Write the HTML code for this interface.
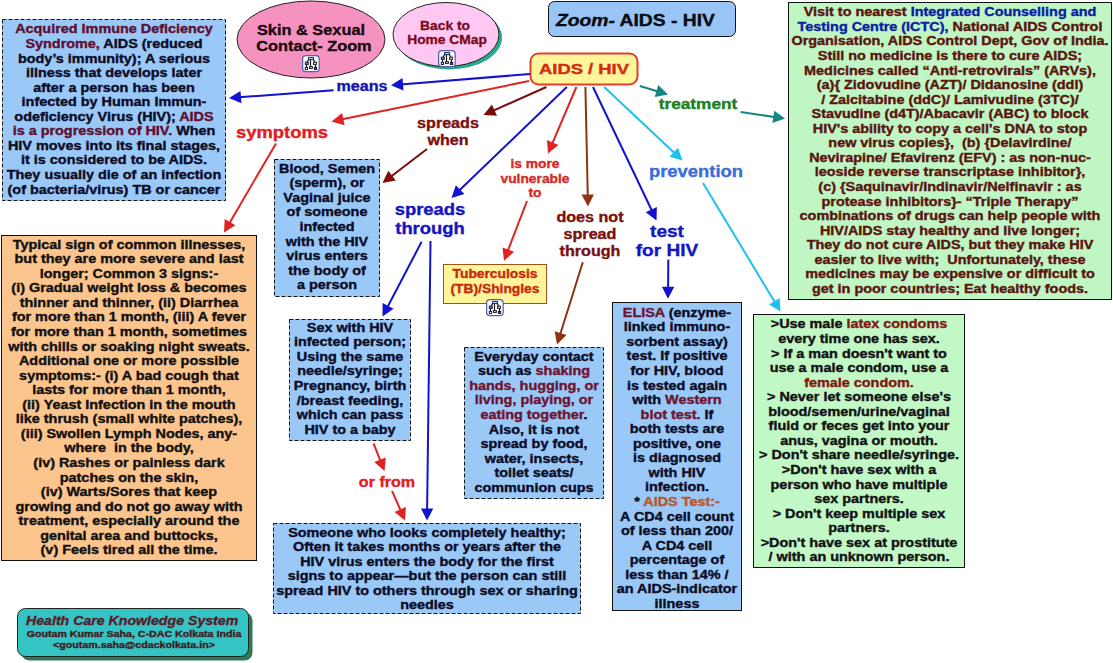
<!DOCTYPE html>
<html><head><meta charset="utf-8"><title>Zoom- AIDS - HIV</title>
<style>
html,body{margin:0;padding:0;width:1113px;height:663px;overflow:hidden;background:#fff;}
svg{position:absolute;left:0;top:0;}
.t{position:absolute;-webkit-text-stroke:0.35px currentColor;font-family:"Liberation Sans",sans-serif;font-weight:bold;white-space:nowrap;text-align:center;transform-origin:50% 0;}
</style></head><body>
<svg width="1113" height="663" viewBox="0 0 1113 663">
<rect x="2.5" y="19.5" width="223.0" height="181.0" rx="0" fill="#9ac9f8" stroke="#111" stroke-width="1" stroke-dasharray="4 2"/>
<rect x="1.5" y="235.5" width="255.0" height="325.0" rx="0" fill="#fdc58e" stroke="#111" stroke-width="1"/>
<rect x="788.5" y="2.5" width="323.0" height="297.0" rx="0" fill="#bff6c4" stroke="#111" stroke-width="1"/>
<rect x="274.5" y="159.5" width="105.0" height="137.0" rx="0" fill="#9ac9f8" stroke="#111" stroke-width="1" stroke-dasharray="4 2"/>
<rect x="289.5" y="319.5" width="121.0" height="121.0" rx="0" fill="#9ac9f8" stroke="#111" stroke-width="1" stroke-dasharray="4 2"/>
<rect x="443.5" y="264.5" width="103.0" height="39.0" rx="0" fill="#fff49a" stroke="#a8501a" stroke-width="1"/>
<rect x="464.5" y="347.5" width="139.0" height="151.0" rx="0" fill="#9ac9f8" stroke="#111" stroke-width="1" stroke-dasharray="4 2"/>
<rect x="273.5" y="523.5" width="307.0" height="90.0" rx="0" fill="#9ac9f8" stroke="#111" stroke-width="1" stroke-dasharray="4 2"/>
<rect x="612.5" y="302.5" width="129.0" height="308.0" rx="0" fill="#9ac9f8" stroke="#111" stroke-width="1"/>
<rect x="753.5" y="314.5" width="211.0" height="253.0" rx="0" fill="#c2f7c6" stroke="#111" stroke-width="1"/>
<rect x="548.5" y="1.5" width="187" height="35" rx="6" fill="#98c5f5" stroke="#111" stroke-width="1"/>
<rect x="530.5" y="53.5" width="107" height="31" rx="8" fill="#fff59a" stroke="#e0402a" stroke-width="2"/>
<ellipse cx="311" cy="39.5" rx="74" ry="38.5" fill="#f592bf" stroke="#222" stroke-width="1"/>
<ellipse cx="449" cy="37.5" rx="53" ry="32" fill="#2aa88a"/>
<ellipse cx="446" cy="34.5" rx="53" ry="32" fill="#ffc8f2" stroke="#222" stroke-width="1"/>
<rect x="21.5" y="612.5" width="231" height="48" rx="8" fill="#2d7a55"/>
<rect x="17.5" y="608.5" width="231" height="48" rx="8" fill="#35c4c4" stroke="#222" stroke-width="1"/>
<line x1="530.0" y1="74.0" x2="400.6" y2="84.5" stroke="#1212d0" stroke-width="2"/>
<polygon points="391.0,85.3 402.5,78.1 403.5,90.5" fill="#1212d0"/>
<line x1="333.6" y1="90.2" x2="238.6" y2="97.3" stroke="#1212d0" stroke-width="2"/>
<polygon points="229.0,98.0 240.5,90.9 241.4,103.3" fill="#1212d0"/>
<line x1="529.0" y1="81.0" x2="341.0" y2="119.6" stroke="#e02222" stroke-width="2"/>
<polygon points="331.6,121.5 342.1,113.0 344.6,125.2" fill="#e02222"/>
<line x1="276.0" y1="143.4" x2="228.8" y2="224.2" stroke="#e02222" stroke-width="2"/>
<polygon points="224.0,232.5 224.7,219.0 235.4,225.3" fill="#e02222"/>
<line x1="546.4" y1="87.0" x2="492.3" y2="111.1" stroke="#7a0c0c" stroke-width="2"/>
<polygon points="483.5,115.0 491.9,104.5 497.0,115.8" fill="#7a0c0c"/>
<line x1="427.0" y1="149.0" x2="390.1" y2="177.2" stroke="#7a0c0c" stroke-width="2"/>
<polygon points="382.5,183.0 388.3,170.8 395.8,180.6" fill="#7a0c0c"/>
<line x1="566.8" y1="87.0" x2="458.4" y2="191.3" stroke="#1212d0" stroke-width="2"/>
<polygon points="451.5,198.0 455.8,185.2 464.4,194.1" fill="#1212d0"/>
<line x1="421.6" y1="241.8" x2="387.0" y2="308.0" stroke="#1212d0" stroke-width="2"/>
<polygon points="382.5,316.5 382.6,303.0 393.6,308.7" fill="#1212d0"/>
<line x1="430.5" y1="241.0" x2="427.1" y2="510.9" stroke="#1212d0" stroke-width="2"/>
<polygon points="427.0,520.5 421.0,508.4 433.3,508.6" fill="#1212d0"/>
<line x1="576.4" y1="87.0" x2="551.8" y2="144.7" stroke="#e02222" stroke-width="2"/>
<polygon points="548.0,153.5 547.0,140.0 558.4,144.9" fill="#e02222"/>
<line x1="527.0" y1="201.0" x2="507.4" y2="251.8" stroke="#e02222" stroke-width="2"/>
<polygon points="504.0,260.8 502.5,247.4 514.1,251.8" fill="#e02222"/>
<line x1="585.4" y1="87.0" x2="587.8" y2="196.9" stroke="#8e3412" stroke-width="2"/>
<polygon points="588.0,206.5 581.5,194.6 593.9,194.4" fill="#8e3412"/>
<line x1="582.8" y1="262.2" x2="559.9" y2="335.3" stroke="#8e3412" stroke-width="2"/>
<polygon points="557.0,344.5 554.7,331.2 566.5,334.9" fill="#8e3412"/>
<line x1="593.0" y1="87.0" x2="652.4" y2="211.8" stroke="#1212d0" stroke-width="2"/>
<polygon points="656.5,220.5 645.7,212.3 656.9,207.0" fill="#1212d0"/>
<line x1="668.3" y1="259.5" x2="668.1" y2="289.2" stroke="#1212d0" stroke-width="2"/>
<polygon points="668.0,298.8 661.9,286.8 674.3,286.8" fill="#1212d0"/>
<line x1="604.2" y1="87.0" x2="675.5" y2="153.9" stroke="#20c0ec" stroke-width="2"/>
<polygon points="682.5,160.5 669.5,156.8 678.0,147.8" fill="#20c0ec"/>
<line x1="703.0" y1="182.9" x2="775.5" y2="303.3" stroke="#20c0ec" stroke-width="2"/>
<polygon points="780.5,311.5 769.0,304.4 779.6,298.0" fill="#20c0ec"/>
<line x1="639.8" y1="86.0" x2="658.8" y2="91.7" stroke="#1a8585" stroke-width="2"/>
<polygon points="668.0,94.5 654.7,97.0 658.3,85.1" fill="#1a8585"/>
<line x1="740.7" y1="111.9" x2="775.7" y2="117.2" stroke="#1a8585" stroke-width="2"/>
<polygon points="785.2,118.6 772.4,122.9 774.3,110.7" fill="#1a8585"/>
<line x1="373.5" y1="443.3" x2="380.9" y2="462.0" stroke="#e02222" stroke-width="2"/>
<polygon points="384.5,470.9 374.3,462.0 385.8,457.5" fill="#e02222"/>
<line x1="392.0" y1="490.8" x2="401.2" y2="511.7" stroke="#e02222" stroke-width="2"/>
<polygon points="405.0,520.5 394.5,512.0 405.9,507.0" fill="#e02222"/>
</svg>
<div class="t" style="left:-86.50px;top:22.42px;width:400px;font-size:12.00px;line-height:14.57px;color:#0c0c26;transform:scaleX(1.200);"><span style="color:#5e0f32">Acquired Immune Deficiency</span><br><span style="color:#5e0f32">Syndrome,</span> AIDS (reduced<br>body’s immunity); A serious<br>illness that develops later<br>after a person has been<br>infected by Human Immun-<br>odeficiency Virus (HIV); <span style="color:#5e0f32">AIDS</span><br><span style="color:#5e0f32">is a progression of HIV.</span> When<br>HIV moves into its final stages,<br>it is considered to be AIDS.<br>They usually die of an infection<br>(of bacteria/virus) TB or cancer</div>
<div class="t" style="left:-71.50px;top:237.62px;width:400px;font-size:12.00px;line-height:14.57px;color:#111;transform:scaleX(1.200);">Typical sign of common illnesses,<br>but they are more severe and last<br>longer; Common 3 signs:-<br>(i) Gradual weight loss &amp; becomes<br>thinner and thinner, (ii) Diarrhea<br>for more than 1 month, (iii) A fever<br>for more than 1 month, sometimes<br>with chills or soaking night sweats.<br>Additional one or more possible<br>symptoms:- (i) A bad cough that<br>lasts for more than 1 month,<br>(ii) Yeast Infection in the mouth<br>like thrush (small white patches),<br>(iii) Swollen Lymph Nodes, any-<br>where  in the body,<br>(iv) Rashes or painless dark<br>patches on the skin,<br>(iv) Warts/Sores that keep<br>growing and do not go away with<br>treatment, especially around the<br>genital area and buttocks,<br>(v) Feels tired all the time.</div>
<div class="t" style="left:749.70px;top:5.31px;width:400px;font-size:12.00px;line-height:14.57px;color:#5a140e;transform:scaleX(1.200);">Visit to nearest <span style="color:#0c1ea0">Integrated Counselling and</span><br><span style="color:#0c1ea0">Testing Centre (ICTC),</span> National AIDS Control<br>Organisation, AIDS Control Dept, Gov of India.<br>Still no medicine is there to cure AIDS;<br>Medicines called “Anti-retrovirals” (ARVs),<br>(a){ Zidovudine (AZT)/ Didanosine (ddl)<br>/ Zalcitabine (ddC)/ Lamivudine (3TC)/<br>Stavudine (d4T)/Abacavir (ABC) to block<br>HIV's ability to copy a cell's DNA to stop<br>new virus copies},  (b) {Delavirdine/<br>Nevirapine/ Efavirenz (EFV) : as non-nuc-<br>leoside reverse transcriptase inhibitor},<br>(c) {Saquinavir/Indinavir/Nelfinavir : as<br>protease inhibitors}- “Triple Therapy”<br>combinations of drugs can help people with<br>HIV/AIDS stay healthy and live longer;<br>They do not cure AIDS, but they make HIV<br>easier to live with;  Unfortunately, these<br>medicines may be expensive or difficult to<br>get in poor countries; Eat healthy foods.</div>
<div class="t" style="left:226.50px;top:161.81px;width:200px;font-size:12.00px;line-height:14.57px;color:#0c0c26;transform:scaleX(1.200);">Blood, Semen<br>(sperm), or<br>Vaginal juice<br>of someone<br>infected<br>with the HIV<br>virus enters<br>the body of<br>a person</div>
<div class="t" style="left:249.50px;top:320.81px;width:200px;font-size:12.00px;line-height:14.57px;color:#0c0c26;transform:scaleX(1.200);">Sex with HIV<br>infected person;<br>Using the same<br>needle/syringe;<br>Pregnancy, birth<br>/breast feeding,<br>which can pass<br>HIV to a baby</div>
<div class="t" style="left:413.50px;top:349.71px;width:240px;font-size:12.00px;line-height:14.57px;color:#0c0c26;transform:scaleX(1.200);">Everyday contact<br>such as <span style="color:#6e1430">shaking</span><br><span style="color:#6e1430">hands, hugging, or</span><br><span style="color:#6e1430">living, playing, or</span><br><span style="color:#6e1430">eating together</span>.<br>Also, it is not<br>spread by food,<br>water, insects,<br>toilet seats/<br>communion cups</div>
<div class="t" style="left:227.00px;top:525.62px;width:400px;font-size:12.00px;line-height:14.57px;color:#0c0c26;transform:scaleX(1.200);">Someone who looks completely healthy;<br>Often it takes months or years after the<br>HIV virus enters the body for the first<br>signs to appear—but the person can still<br>spread HIV to others through sex or sharing<br>needles</div>
<div class="t" style="left:556.50px;top:305.71px;width:240px;font-size:12.00px;line-height:14.57px;color:#0c0c26;transform:scaleX(1.200);"><span style="color:#6e1430">ELISA</span> (enzyme-<br>linked immuno-<br>sorbent assay)<br>test. If positive<br>for HIV, blood<br>is tested again<br>with <span style="color:#6e1430">Western</span><br><span style="color:#6e1430">blot test.</span> If<br>both tests are<br>positive, one<br>is diagnosed<br>with HIV<br>infection.<br>* <span style="color:#b8562c">AIDS Test:-</span><br>A CD4 cell count<br>of less than 200/<br>A CD4 cell<br>percentage of<br>less than 14% /<br>an AIDS-indicator<br>illness</div>
<div class="t" style="left:709.00px;top:317.42px;width:300px;font-size:12.00px;line-height:14.57px;color:#121212;transform:scaleX(1.200);">&gt;Use male <span style="color:#7e1a12">latex condoms</span><br>every time one has sex.<br>&gt; If a man doesn't want to<br>use a male condom, use a<br><span style="color:#7e1a12">female condom.</span><br>&gt; Never let someone else's<br>blood/semen/urine/vaginal<br>fluid or feces get into your<br>anus, vagina or mouth.<br>&gt; Don't share needle/syringe.<br>&gt;Don't have sex with a<br>person who have multiple<br>sex partners.<br>&gt; Don't keep multiple sex<br>partners.<br>&gt;Don't have sex at prostitute<br>/ with an unknown person.</div>
<div class="t" style="left:395.00px;top:266.90px;width:200px;font-size:12.00px;line-height:15.00px;color:#c42c0c;transform:scaleX(1.150);">Tuberculosis<br>(TB)/Shingles</div>
<div class="t" style="left:211.00px;top:21.90px;width:200px;font-size:15.00px;line-height:16.80px;color:#1a0a10;transform:scaleX(1.090);">Skin &amp; Sexual</div>
<div class="t" style="left:213.50px;top:38.20px;width:200px;font-size:15.00px;line-height:16.80px;color:#1a0a10;transform:scaleX(1.090);">Contact- Zoom</div>
<div class="t" style="left:344.80px;top:18.85px;width:200px;font-size:13.00px;line-height:14.30px;color:#7a0a1e;transform:scaleX(1.060);">Back to</div>
<div class="t" style="left:347.00px;top:33.05px;width:200px;font-size:13.00px;line-height:14.30px;color:#7a0a1e;transform:scaleX(1.060);">Home CMap</div>
<div class="t" style="left:555.6px;top:10.8px;font-size:16px;line-height:20px;color:#0a0a14;transform-origin:0 0;transform:scaleX(1.205);text-align:left"><i>Zoom-</i> AIDS - HIV</div>
<div class="t" style="left:483.50px;top:61.20px;width:200px;font-size:14.00px;line-height:16.00px;color:#d42a10;transform:scaleX(1.315);">AIDS / HIV</div>
<div class="t" style="left:262.00px;top:78.40px;width:200px;font-size:14.00px;line-height:16.00px;color:#1515b0;transform:scaleX(1.150);">means</div>
<div class="t" style="left:181.50px;top:124.10px;width:200px;font-size:16.00px;line-height:18.00px;color:#e02020;transform:scaleX(1.150);">symptoms</div>
<div class="t" style="left:348.00px;top:114.80px;width:200px;font-size:14.00px;line-height:17.00px;color:#7a1010;transform:scaleX(1.150);">spreads<br>when</div>
<div class="t" style="left:329.50px;top:201.45px;width:200px;font-size:16.00px;line-height:18.30px;color:#1515c0;transform:scaleX(1.150);">spreads<br>through</div>
<div class="t" style="left:435.00px;top:157.20px;width:200px;font-size:12.00px;line-height:14.60px;color:#d42a2a;transform:scaleX(1.150);">is more<br>vulnerable<br>to</div>
<div class="t" style="left:489.60px;top:208.95px;width:200px;font-size:14.00px;line-height:16.90px;color:#7a1010;transform:scaleX(1.150);">does not<br>spread<br>through</div>
<div class="t" style="left:567.00px;top:222.10px;width:200px;font-size:16.00px;line-height:19.00px;color:#1515c0;transform:scaleX(1.190);">test<br>for HIV</div>
<div class="t" style="left:595.50px;top:163.00px;width:200px;font-size:16.00px;line-height:18.00px;color:#3a6fd8;transform:scaleX(1.150);">prevention</div>
<div class="t" style="left:598.40px;top:96.40px;width:200px;font-size:14.50px;line-height:16.00px;color:#1e7f1e;transform:scaleX(1.190);">treatment</div>
<div class="t" style="left:287.00px;top:474.40px;width:200px;font-size:14.00px;line-height:16.00px;color:#e02020;transform:scaleX(1.150);">or from</div>
<div class="t" style="left:25.5px;top:613.2px;font-size:13.5px;line-height:16px;color:#5a1a2a;transform-origin:0 0;transform:scaleX(1.048);text-align:left"><i>Health Care Knowledge System</i></div>
<div class="t" style="left:-16.50px;top:628.40px;width:300px;font-size:9.50px;line-height:11.00px;color:#3e1a22;transform:scaleX(1.120);">Goutam Kumar Saha, C-DAC Kolkata India<br>&lt;goutam.saha@cdackolkata.in&gt;</div>

<svg width="1113" height="663" viewBox="0 0 1113 663">
<g transform="translate(302,55)">
<rect x="0.6" y="0.6" width="16.6" height="16" rx="3.2" fill="#f6f9ff" stroke="#4f62b0" stroke-width="1.2"/>
<path d="M6.8 4.6 L5.0 7.0 M8.5 4.6 L8.5 11.5 M11.2 4.6 L13.0 7.0 M4.5 9.6 L4.5 12.3 M13.5 9.6 L13.5 12.3" stroke="#111" stroke-width="1.1" fill="none"/>
<rect x="6.4" y="2.6" width="5.2" height="2" fill="#bcd8f0" stroke="#14203a" stroke-width="0.9"/>
<rect x="3.3" y="7.1" width="3" height="2.3" fill="#6a7ab8" stroke="#141a40" stroke-width="0.9"/>
<rect x="11.5" y="7.2" width="3" height="2.2" fill="#e8e0a0" stroke="#1a1a14" stroke-width="0.9"/>
<rect x="3.3" y="12.4" width="2.3" height="2.1" fill="#ffffff" stroke="#101010" stroke-width="0.9"/>
<rect x="7.4" y="11.6" width="3" height="1.9" fill="#d8b0b0" stroke="#201010" stroke-width="0.9"/>
<rect x="12.4" y="12.4" width="2.3" height="2.1" fill="#4a5aa0" stroke="#101030" stroke-width="0.9"/>
</g>
<g transform="translate(438,50)">
<rect x="0.6" y="0.6" width="16.6" height="16" rx="3.2" fill="#f6f9ff" stroke="#4f62b0" stroke-width="1.2"/>
<path d="M6.8 4.6 L5.0 7.0 M8.5 4.6 L8.5 11.5 M11.2 4.6 L13.0 7.0 M4.5 9.6 L4.5 12.3 M13.5 9.6 L13.5 12.3" stroke="#111" stroke-width="1.1" fill="none"/>
<rect x="6.4" y="2.6" width="5.2" height="2" fill="#bcd8f0" stroke="#14203a" stroke-width="0.9"/>
<rect x="3.3" y="7.1" width="3" height="2.3" fill="#6a7ab8" stroke="#141a40" stroke-width="0.9"/>
<rect x="11.5" y="7.2" width="3" height="2.2" fill="#e8e0a0" stroke="#1a1a14" stroke-width="0.9"/>
<rect x="3.3" y="12.4" width="2.3" height="2.1" fill="#ffffff" stroke="#101010" stroke-width="0.9"/>
<rect x="7.4" y="11.6" width="3" height="1.9" fill="#d8b0b0" stroke="#201010" stroke-width="0.9"/>
<rect x="12.4" y="12.4" width="2.3" height="2.1" fill="#4a5aa0" stroke="#101030" stroke-width="0.9"/>
</g>
<g transform="translate(486,299)">
<rect x="0.6" y="0.6" width="16.6" height="16" rx="3.2" fill="#f6f9ff" stroke="#4f62b0" stroke-width="1.2"/>
<path d="M6.8 4.6 L5.0 7.0 M8.5 4.6 L8.5 11.5 M11.2 4.6 L13.0 7.0 M4.5 9.6 L4.5 12.3 M13.5 9.6 L13.5 12.3" stroke="#111" stroke-width="1.1" fill="none"/>
<rect x="6.4" y="2.6" width="5.2" height="2" fill="#bcd8f0" stroke="#14203a" stroke-width="0.9"/>
<rect x="3.3" y="7.1" width="3" height="2.3" fill="#6a7ab8" stroke="#141a40" stroke-width="0.9"/>
<rect x="11.5" y="7.2" width="3" height="2.2" fill="#e8e0a0" stroke="#1a1a14" stroke-width="0.9"/>
<rect x="3.3" y="12.4" width="2.3" height="2.1" fill="#ffffff" stroke="#101010" stroke-width="0.9"/>
<rect x="7.4" y="11.6" width="3" height="1.9" fill="#d8b0b0" stroke="#201010" stroke-width="0.9"/>
<rect x="12.4" y="12.4" width="2.3" height="2.1" fill="#4a5aa0" stroke="#101030" stroke-width="0.9"/>
</g>
</svg>
</body></html>
